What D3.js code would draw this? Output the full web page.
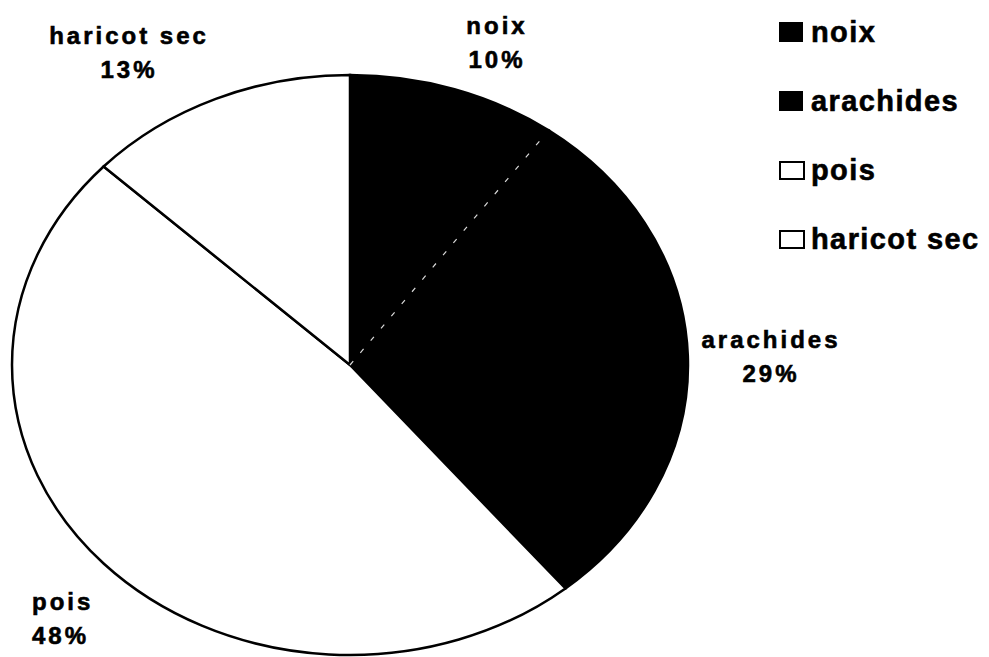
<!DOCTYPE html>
<html>
<head>
<meta charset="utf-8">
<script src="https://cdn.jsdelivr.net/npm/d3@7"></script>
<style>
  html, body { margin: 0; padding: 0; background: #fff; }
  svg { display: block; }
  text { font-family: "Liberation Sans", Arial, sans-serif; font-weight: bold; fill: #000; stroke: #000; stroke-width: 0.6px; }
</style>
</head>
<body>
<svg id="chart" width="989" height="657"></svg>
<script>
const categories = ["noix", "arachides", "pois", "haricot sec"];
const values = [10, 29, 48, 13];
const percentLabels = ["10%", "29%", "48%", "13%"];
const fills = ["#000000", "#000000", "#ffffff", "#ffffff"];

const svg = d3.select("#chart");
const cx = 350, cy = 365, rx = 338, ry = 290;

const pie = d3.pie().sort(null).value(d => d.value);
const arcs = pie(categories.map((c, i) => ({ name: c, value: values[i], fill: fills[i] })));
const arc = d3.arc().innerRadius(0).outerRadius(rx);

const g = svg.append("g").attr("transform", `translate(${cx},${cy}) scale(1,${ry / rx})`);

g.selectAll("path.slice").data(arcs).enter().append("path")
  .attr("class", "slice")
  .attr("d", arc)
  .attr("fill", d => d.data.fill)
  .attr("stroke", "#000")
  .attr("stroke-width", 2.5)
  .attr("vector-effect", "non-scaling-stroke");

// faint white dashed boundary between the two black slices
const a0 = arcs[0].endAngle;
g.append("line")
  .attr("x1", 0).attr("y1", 0)
  .attr("x2", rx * Math.sin(a0) * 0.98).attr("y2", -rx * Math.cos(a0) * 0.98)
  .attr("stroke", "#fff").attr("stroke-width", 1.2)
  .attr("stroke-dasharray", "5,11")
  .attr("stroke-opacity", 0.85)
  .attr("vector-effect", "non-scaling-stroke");

// slice labels
const labelPos = [
  { x: 497, y: 34, anchor: "middle" },
  { x: 771, y: 348, anchor: "middle" },
  { x: 32, y: 610, anchor: "start" },
  { x: 129, y: 44, anchor: "middle" }
];
arcs.forEach((d, i) => {
  const p = labelPos[i];
  const t = svg.append("text")
    .attr("text-anchor", p.anchor)
    .attr("font-size", 24)
    .attr("letter-spacing", 3);
  t.append("tspan").attr("x", p.x).attr("y", p.y).text(d.data.name);
  t.append("tspan").attr("x", p.x).attr("y", p.y + 34).text(percentLabels[i]);
});

// legend
const legend = svg.append("g").attr("transform", "translate(779,0)");
const lg = legend.selectAll("g").data(categories).enter().append("g")
  .attr("transform", (d, i) => `translate(0,${42 + i * 69})`);
lg.append("rect")
  .attr("x", (d, i) => fills[i] === "#000000" ? 0 : 1)
  .attr("y", (d, i) => fills[i] === "#000000" ? -20 : -18)
  .attr("width", 24)
  .attr("height", (d, i) => fills[i] === "#000000" ? 20 : 17)
  .attr("fill", (d, i) => fills[i])
  .attr("stroke", "#000")
  .attr("stroke-width", (d, i) => fills[i] === "#000000" ? 0 : 2);
lg.append("text")
  .attr("x", 32)
  .attr("y", 0)
  .attr("font-size", 29)
  .attr("letter-spacing", 1.4)
  .text(d => d);
</script>
</body>
</html>
